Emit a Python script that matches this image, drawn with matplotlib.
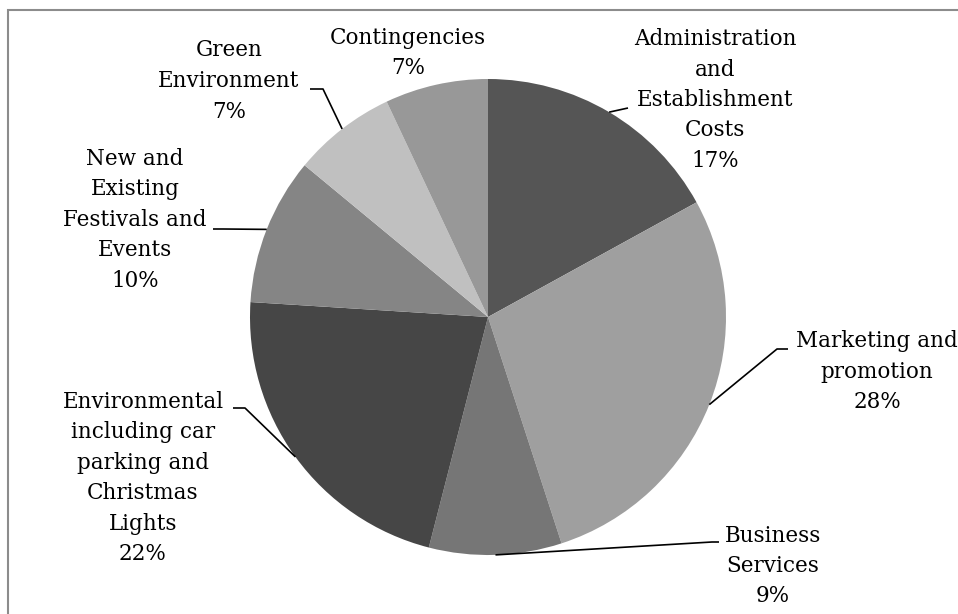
import numpy as np
import matplotlib
matplotlib.use("Agg")
import matplotlib.pyplot as plt
from matplotlib.patches import Rectangle

W, H = 958, 614

# Budget share (%) clockwise from 12 o'clock
CATEGORIES = [
    "Administration\nand\nEstablishment\nCosts",
    "Marketing and\npromotion",
    "Business\nServices",
    "Environmental\nincluding car\nparking and\nChristmas\nLights",
    "New and\nExisting\nFestivals and\nEvents",
    "Green\nEnvironment",
    "Contingencies",
]
VALUES = [17, 28, 9, 22, 10, 7, 7]
COLORS = ["#555555", "#9f9f9f", "#767676", "#464646", "#858585", "#c0c0c0", "#989898"]

# label centre (pixels, y down) and leader elbow (None = no leader)
LABEL_POS = [(715, 100), (877, 372), (773, 566), (143, 478), (135, 220), (229, 81), (408, 53)]
ELBOWS = [
    [(628, 108)],
    [(777, 349), (788, 349)],
    [(712, 542), (719, 542)],
    [(245, 408), (233, 408)],
    [(223, 229), (213, 229)],
    [(323, 89), (310, 89)],
    None,
]

CX, CY, R = 488, H - 317, 238

fig = plt.figure(figsize=(W / 100, H / 100), dpi=100)
ax = fig.add_axes([0, 0, 1, 1])

# outer chart frame (runs off the right and bottom edges)
ax.add_patch(Rectangle((8, -20), W + 20, H - 10 + 20, fill=False,
                       edgecolor="#8c8c8c", linewidth=1.5))

wedges, _ = ax.pie(VALUES, colors=COLORS, startangle=90, counterclock=False,
                   center=(CX, CY), radius=R, frame=True,
                   wedgeprops=dict(edgecolor="none"))
ax.set_xlim(0, W)
ax.set_ylim(0, H)
ax.set_aspect("equal")
ax.axis("off")

for w, lab, val, pos, elbow in zip(wedges, CATEGORIES, VALUES, LABEL_POS, ELBOWS):
    ang = np.deg2rad((w.theta1 + w.theta2) / 2)
    px, py = CX + R * np.cos(ang), CY + R * np.sin(ang)
    if elbow:
        xs = [px] + [e[0] for e in elbow]
        ys = [py] + [H - e[1] for e in elbow]
        ax.plot(xs, ys, color="black", linewidth=1.2, solid_capstyle="butt")
    ax.text(pos[0], H - pos[1], f"{lab}\n{val}%", ha="center", va="center",
            multialignment="center", fontsize=15.5, family="DejaVu Serif",
            linespacing=1.5)

fig.savefig("out.png", dpi=100)
